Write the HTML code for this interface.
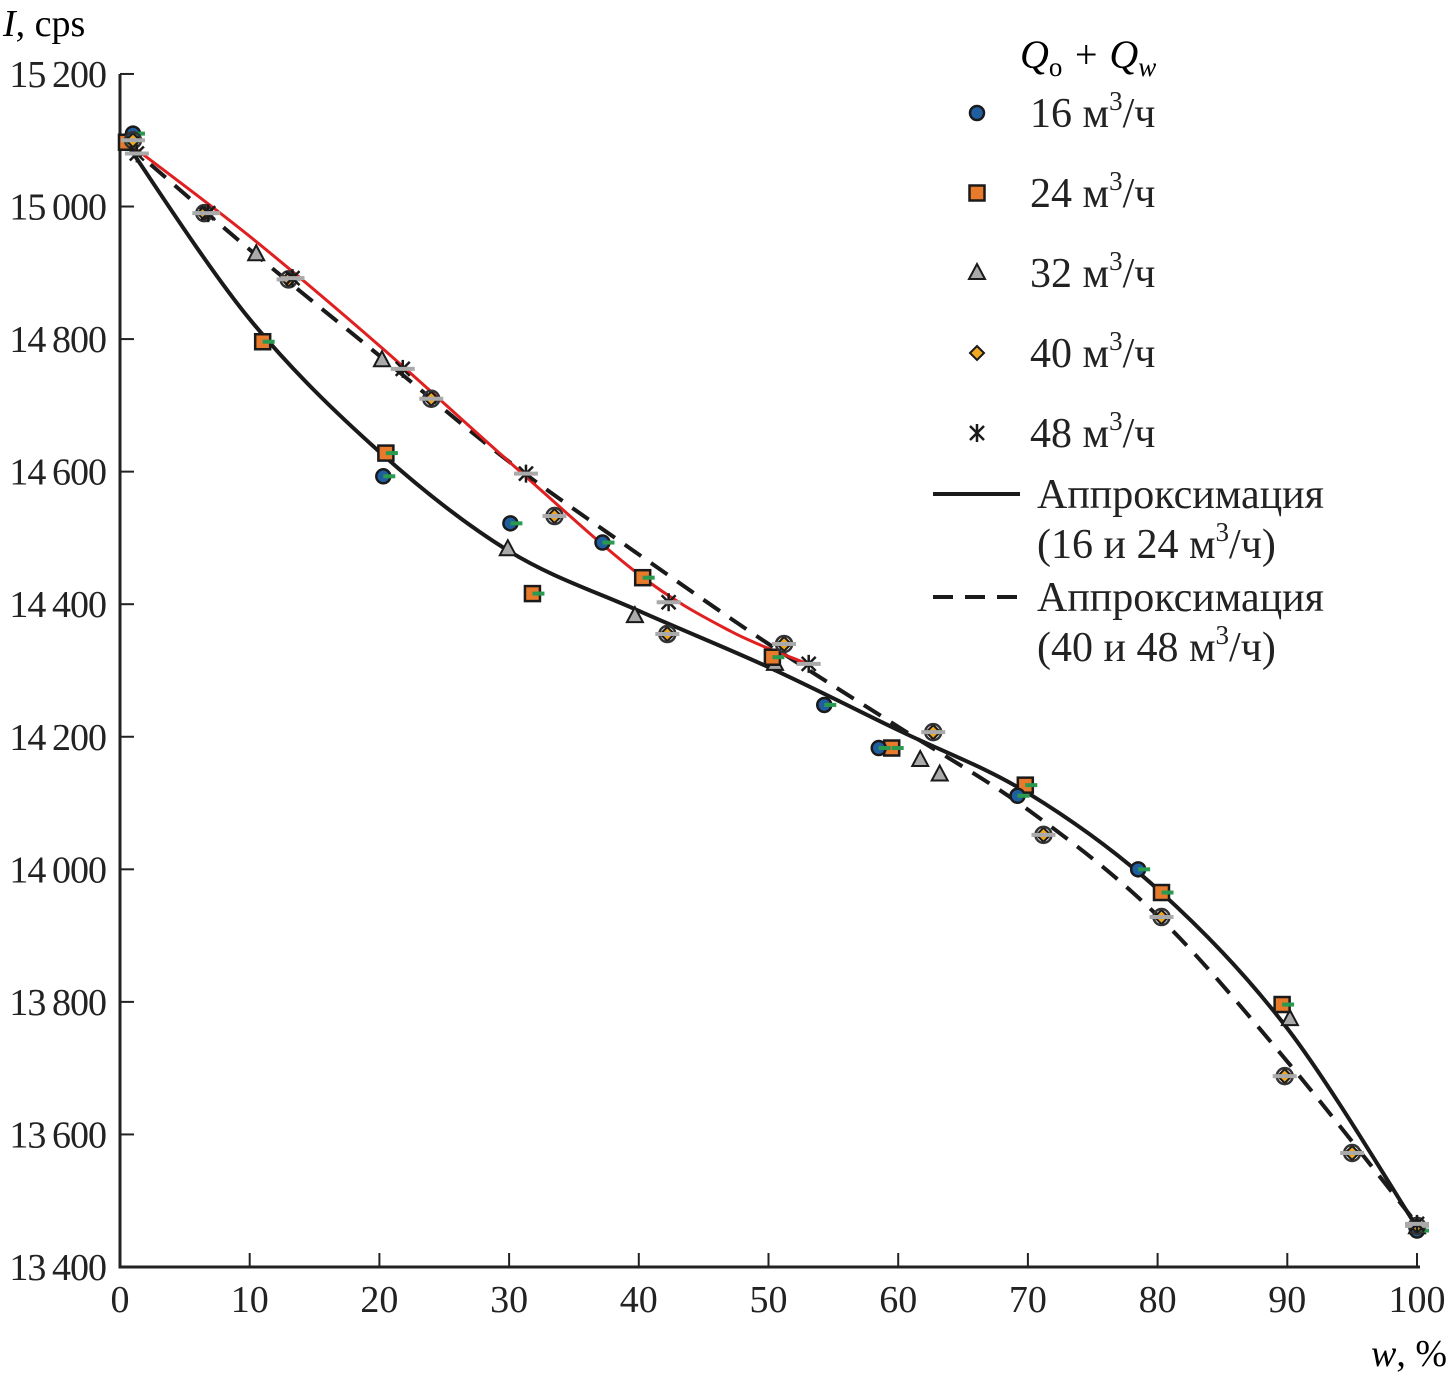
<!DOCTYPE html>
<html><head><meta charset="utf-8"><style>
html,body{margin:0;padding:0;background:#fff}
svg{display:block;font-family:"Liberation Serif",serif}
</style></head><body>
<svg id="chart" width="1451" height="1379" viewBox="0 0 1451 1379">
<g id="axes"></g>
<g id="curves"></g>
<g id="marks"></g>
<g id="legend">
<text x="1020" y="68" font-size="40" font-style="italic">Q<tspan font-style="normal" font-size="27" dy="8">o</tspan><tspan dy="-8"> + Q</tspan><tspan font-size="27" dy="8">w</tspan></text>
</g>
<text x="3" y="36" font-size="38"><tspan font-style="italic">I</tspan>, cps</text>
<text x="1447" y="1366" font-size="38" text-anchor="end"><tspan font-style="italic">w</tspan>, %</text>
</svg>
<script>
const xTicks=[0,10,20,30,40,50,60,70,80,90,100];
const yTicks=[13400,13600,13800,14000,14200,14400,14600,14800,15000,15200];
const s16x=[1,20.3,30.1,37.2,54.3,58.5,69.2,78.5,100];
const s16y=[15110,14593,14522,14493,14248,14183,14111,14000,13455];
const s24x=[0.5,11,20.5,31.8,40.3,50.3,59.5,69.8,80.3,89.6];
const s24y=[15097,14796,14628,14416,14440,14320,14183,14127,13965,13796];
const s32x=[10.5,20.2,29.9,39.7,50.5,61.7,63.2,90.2,100];
const s32y=[14928,14768,14483,14382,14310,14165,14143,13774,13460];
const s40x=[1,6.5,13,24,33.5,42.2,51.2,62.7,71.2,80.3,89.8,95,100];
const s40y=[15100,14990,14890,14710,14533,14355,14340,14207,14052,13928,13688,13572,13462];
const s48x=[1.3,6.8,13.3,21.8,31.3,42.3,53.1,100];
const s48y=[15080,14990,14892,14755,14597,14403,14310,13465];
const fitAx=[0.5,10,20,30,40,50,60,70,80,90,100];
const fitAy=[15095,14830,14630,14480,14390,14305,14210,14115,13970,13760,13460];
const fitBx=[0.5,10,20,30,40,50,60,70,80,90,100];
const fitBy=[15095,14935,14775,14615,14475,14340,14215,14090,13930,13710,13465];
const fitRx=[1,10,20,30,40,47,53];
const fitRy=[15090,14955,14790,14615,14445,14360,14310];

const X=v=>120+v*12.97, Y=v=>1267-(v-13400)*0.6628;
const NS="http://www.w3.org/2000/svg";
function mk(t,a,p){const e=document.createElementNS(NS,t);for(const k in a)e.setAttribute(k,a[k]);p.appendChild(e);return e;}
const axes=document.getElementById('axes');
let ax=mk('path',{d:`M120 ${Y(15200)} V1267 H1420`,stroke:'#222','stroke-width':3,fill:'none'},axes);


xTicks.forEach(t=>{
 let l=mk('line',{x1:X(t),x2:X(t),y1:1267,y2:1253,stroke:'#222','stroke-width':2},axes);
 
 
 let tx=mk('text',{x:X(t),y:1312,'font-size':38,'text-anchor':'middle',fill:'#222'},axes);tx.textContent=t;
 
 
});
yTicks.forEach(t=>{
 let l=mk('line',{x1:120,x2:134,y1:Y(t),y2:Y(t),stroke:'#222','stroke-width':2},axes);
 
 
 let tx=mk('text',{x:106,y:Y(t)+13,'font-size':38,'text-anchor':'end',fill:'#222','letter-spacing':'-1'},axes);
 tx.textContent=String(t).replace(/(\d\d)(\d\d\d)$/,'$1\u2009$2');
 
 
});
function smooth(xs,ys){const p=xs.map((x,i)=>[X(x),Y(ys[i])]);let d=`M${p[0][0]} ${p[0][1]}`;
 for(let i=0;i<p.length-1;i++){const p0=p[i-1]||p[i],p1=p[i],p2=p[i+1],p3=p[i+2]||p2;
 d+=` C${p1[0]+(p2[0]-p0[0])/6} ${p1[1]+(p2[1]-p0[1])/6} ${p2[0]-(p3[0]-p1[0])/6} ${p2[1]-(p3[1]-p1[1])/6} ${p2[0]} ${p2[1]}`;}return d;}
const cg=document.getElementById('curves');
let c1=mk('path',{d:smooth(fitAx,fitAy),stroke:'#1a1a1a','stroke-width':4,fill:'none'},cg);


let c2=mk('path',{d:smooth(fitBx,fitBy),stroke:'#1a1a1a','stroke-width':4,fill:'none','stroke-dasharray':'20 12'},cg);


let c3=mk('path',{d:smooth(fitRx,fitRy),stroke:'#e02020','stroke-width':3,fill:'none'},cg);


const mg=document.getElementById('marks');
function marker(type,cx,cy,p){
 if(type==='c')return mk('circle',{cx,cy,r:7,fill:'#1f5fa0',stroke:'#1a1a1a','stroke-width':2.5},p);
 if(type==='s')return mk('rect',{x:cx-7.5,y:cy-7.5,width:15,height:15,fill:'#e87a2c',stroke:'#1a1a1a','stroke-width':2.5},p);
 if(type==='t')return mk('path',{d:`M${cx} ${cy-9} L${cx+8} ${cy+6} L${cx-8} ${cy+6}Z`,fill:'#aaa',stroke:'#1a1a1a','stroke-width':2},p);
 if(type==='d')return mk('path',{d:`M${cx} ${cy-7} L${cx+7} ${cy} L${cx} ${cy+7} L${cx-7} ${cy}Z`,fill:'#f0a820',stroke:'#1a1a1a','stroke-width':2},p);
 const g=mk('g',{stroke:'#1a1a1a','stroke-width':2.5},p);
 mk('line',{x1:cx-7,y1:cy-7,x2:cx+7,y2:cy+7},g);mk('line',{x1:cx+7,y1:cy-7,x2:cx-7,y2:cy+7},g);mk('line',{x1:cx,y1:cy-9,x2:cx,y2:cy+9},g);return g;
}
function series(xs,ys,type,name,bar,ring){xs.forEach((x,i)=>{const cx=X(x),cy=Y(ys[i]);
 const m=marker(type,cx,cy,mg);
 
 
 if(ring){const r=mk('circle',{cx,cy,r:8,fill:'none',stroke:'#333','stroke-width':2.5},mg);
 
 }
 if(bar){const b=mk('line',{x1:cx-(bar==='g'?0:12),x2:cx+12,y1:cy,y2:cy,stroke:bar==='g'?'#2a9a50':'#aaa','stroke-width':4},mg);
 
 }});}
series(s32x,s32y,'t','point-32','');
series(s24x,s24y,'s','point-24','g');
series(s16x,s16y,'c','point-16','g');
series(s40x,s40y,'d','point-40','a',true);
series(s48x,s48y,'x','point-48','a');
const lg=document.getElementById('legend');
const lab=['16','24','32','40','48'],typ=['c','s','t','d','x'];
lab.forEach((l,i)=>{const y=113+i*80;const m=marker(typ[i],977,y,lg);
 
 
 const t=mk('text',{x:1030,y:y+14,'font-size':42,fill:'#222'},lg);
 t.innerHTML=`${l} м<tspan font-size="27" dy="-17">3</tspan><tspan dy="17">/ч</tspan>`;
 
 });
[[494,'(16 и 24 м',''],[597,'(40 и 48 м','20 12']].forEach(([y,s,da])=>{
 const l=mk('line',{x1:933,x2:1020,y1:y,y2:y,stroke:'#1a1a1a','stroke-width':4,'stroke-dasharray':da},lg);
 
 
 const t=mk('text',{x:1037,y:y+14,'font-size':42,fill:'#222'},lg);t.textContent='Аппроксимация';
 
 
 const t2=mk('text',{x:1037,y:y+64,'font-size':42,fill:'#222'},lg);
 t2.innerHTML=`${s}<tspan font-size="27" dy="-17">3</tspan><tspan dy="17">/ч)</tspan>`;
 
 });
</script>
</body></html>
